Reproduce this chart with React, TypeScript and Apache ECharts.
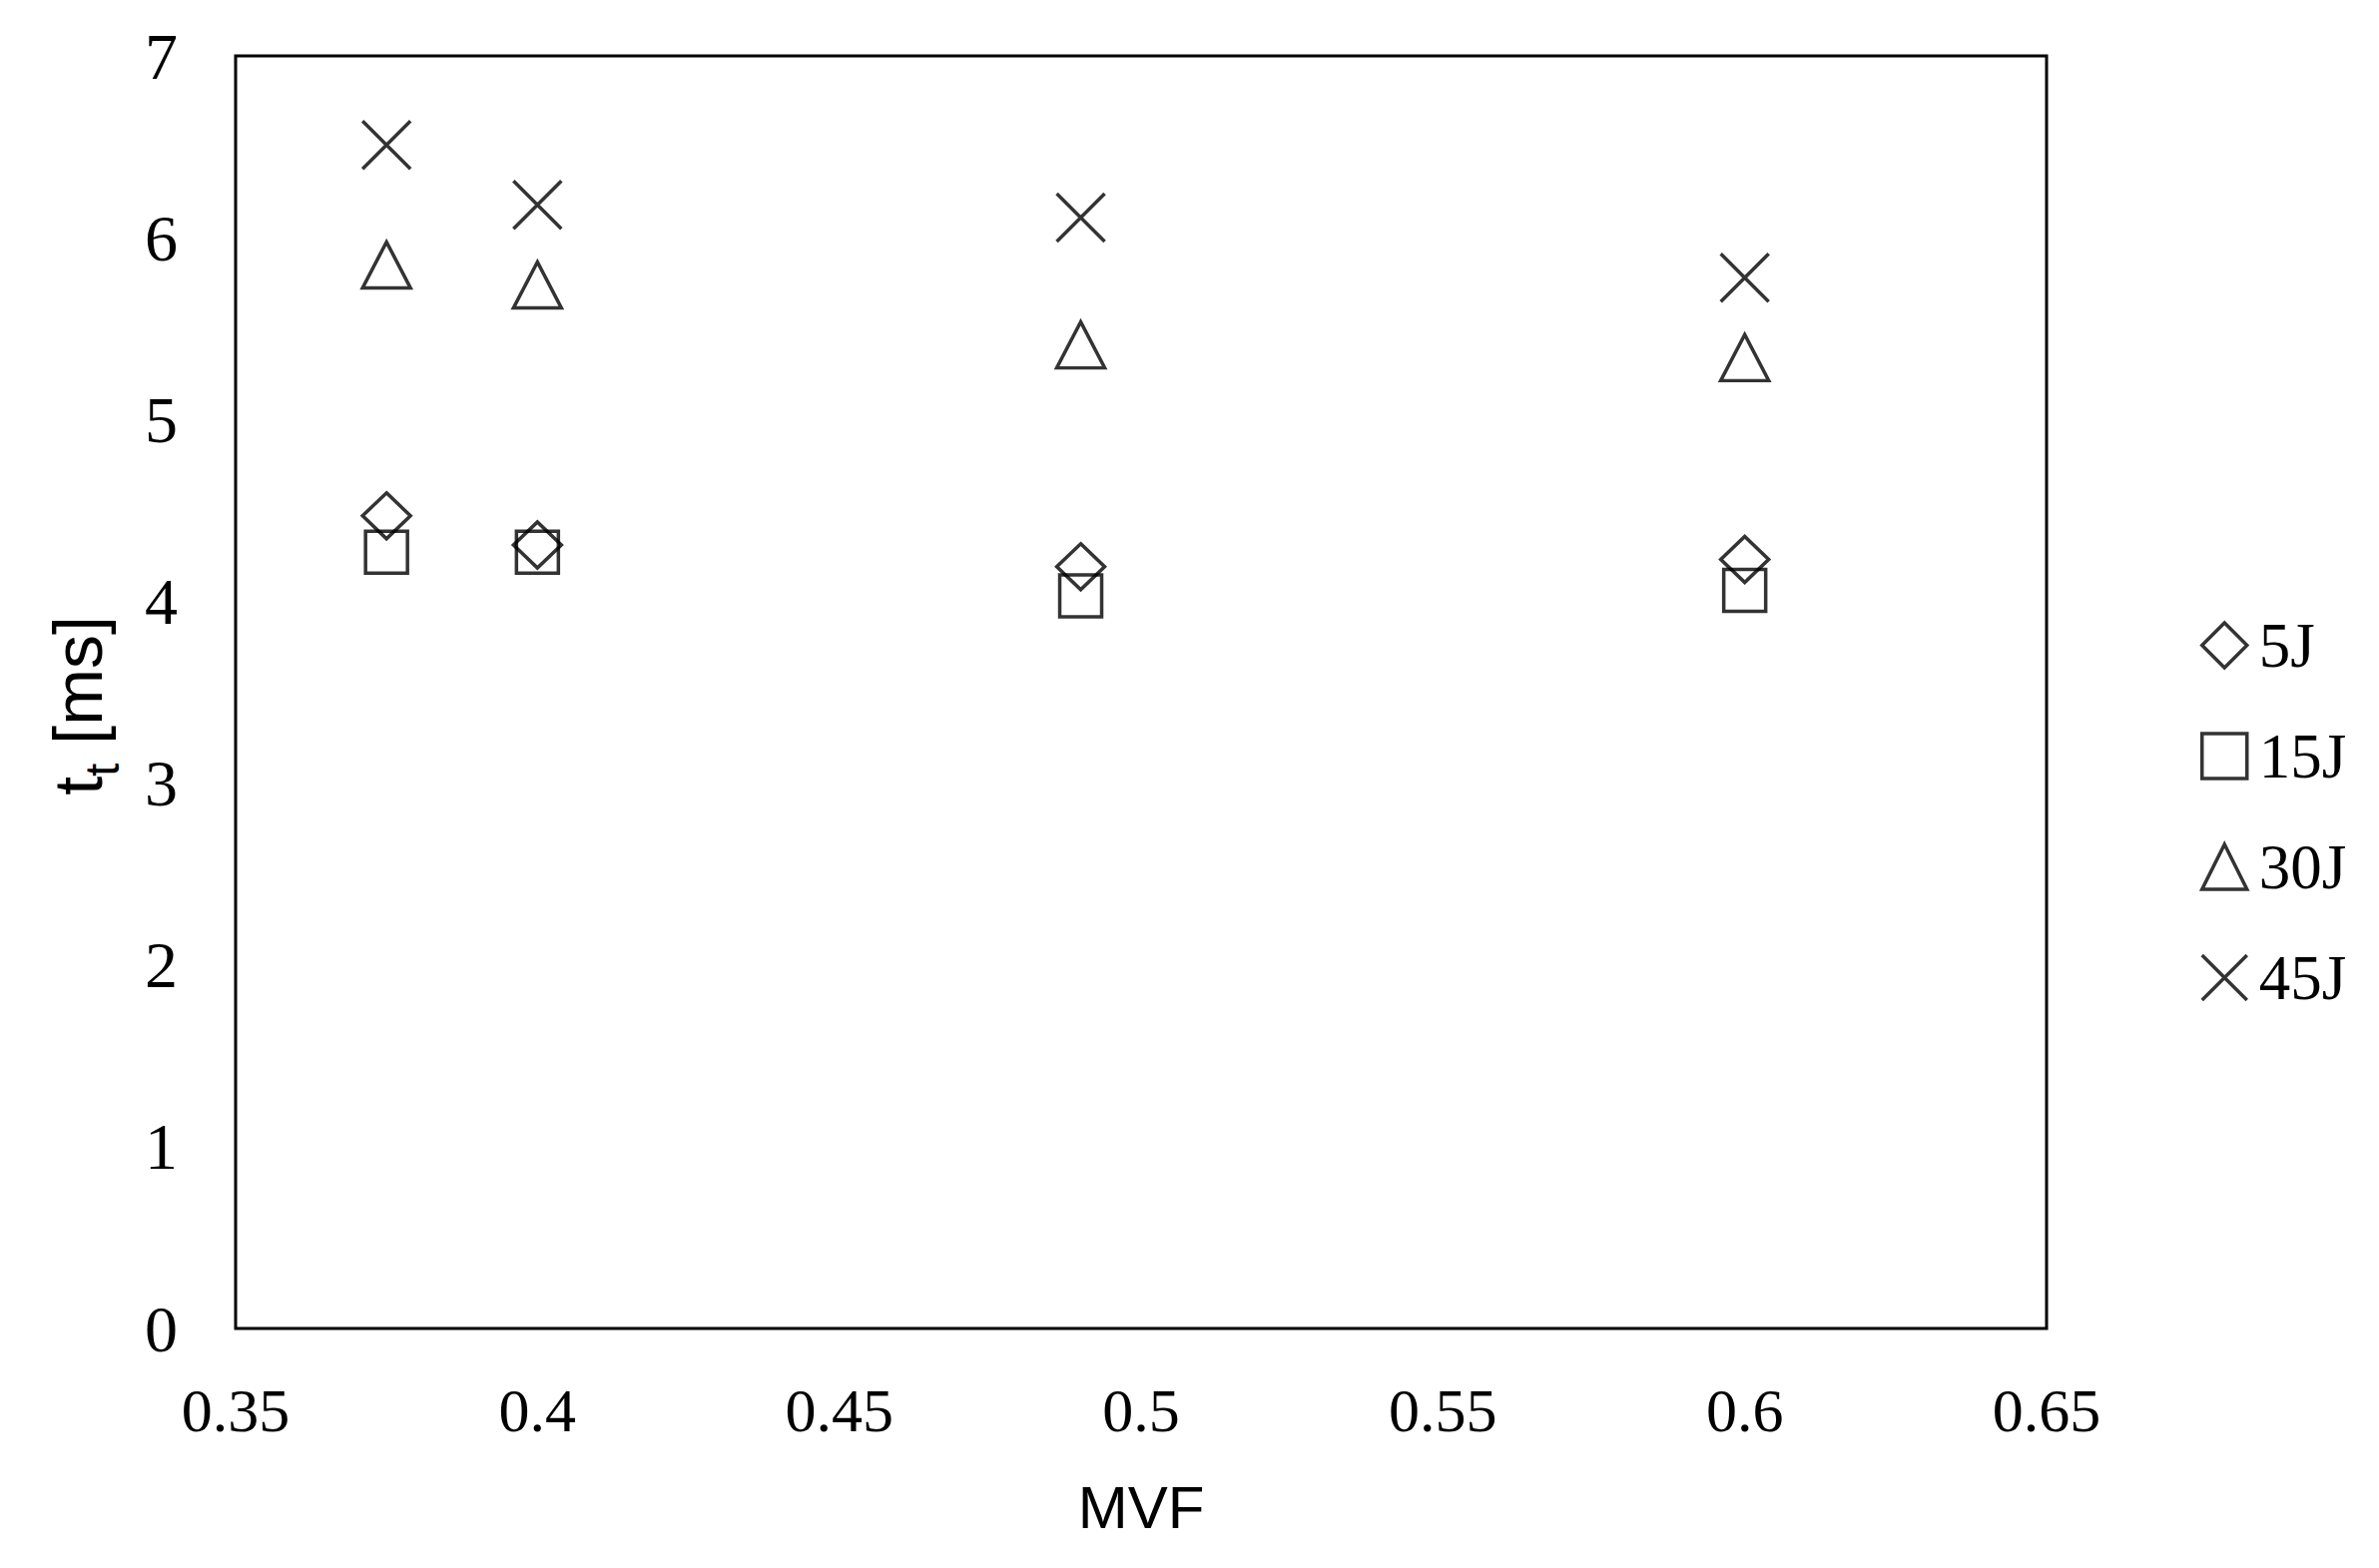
import React, { useEffect, useRef } from "react";
import * as echarts from "echarts";

const mvf = [0.375, 0.4, 0.49, 0.6];
const values5J = [4.47, 4.31, 4.19, 4.23];
const values15J = [4.27, 4.27, 4.03, 4.06];
const values30J = [5.85, 5.74, 5.41, 5.34];
const values45J = [6.51, 6.18, 6.11, 5.78];
const seriesNames = ["5J", "15J", "30J", "45J"];
const seriesValues = [values5J, values15J, values30J, values45J];
const seriesSymbols = ["diamond", "rect", "triangle", "path://M0,0L10,10M10,0L0,10"];
const seriesSymbolSizes: any[] = [[48, 46], 42, [48, 46], 48];

const xMin = 0.35;
const xMax = 0.65;
const xStep = 0.05;
const yMin = 0;
const yMax = 7;
const yStep = 1;

export default function App() {
  const ref = useRef<HTMLDivElement>(null);
  useEffect(() => {
    if (!ref.current) return;
    const chart = echarts.init(ref.current, null, { renderer: "svg" });
    const series = seriesNames.map((name, i) => ({
      name,
      type: "scatter",
      symbol: seriesSymbols[i],
      symbolSize: seriesSymbolSizes[i],
      data: mvf.map((x, j) => [x, seriesValues[i][j]]),
      itemStyle: { color: "rgba(0,0,0,0)", borderColor: "#000", borderWidth: 3.5 },
      emphasis: { disabled: true },
    }));
    chart.setOption({
      animation: false,
      backgroundColor: "#fff",
      grid: {
        show: true,
        left: 236,
        top: 56,
        right: 2383 - 2050,
        bottom: 1571 - 1331,
        borderColor: "#000",
        borderWidth: 3,
        backgroundColor: "rgba(0,0,0,0)",
      },
      xAxis: {
        type: "value",
        min: xMin,
        max: xMax,
        interval: xStep,
        name: "MVF",
        nameLocation: "middle",
        nameGap: 149,
        nameTextStyle: { fontFamily: "Liberation Sans", fontSize: 60, color: "#000" },
        axisLine: { show: false },
        axisTick: { show: false },
        splitLine: { show: false },
        axisLabel: {
          margin: 51,
          fontFamily: "Liberation Serif",
          fontSize: 62,
          color: "#000",
          formatter: (v: number) => String(Math.round(v * 100) / 100),
        },
      },
      yAxis: {
        type: "value",
        min: yMin,
        max: yMax,
        interval: yStep,
        axisLine: { show: false },
        axisTick: { show: false },
        splitLine: { show: false },
        axisLabel: {
          margin: 58,
          fontFamily: "Liberation Serif",
          fontSize: 66,
          color: "#000",
        },
      },
      legend: {
        orient: "vertical",
        left: 2199,
        top: 610,
        itemWidth: 45,
        itemHeight: 45,
        itemGap: 48,
        data: seriesNames,
        itemStyle: { color: "rgba(0,0,0,0)", borderColor: "#000", borderWidth: 3.5 },
        textStyle: {
          fontFamily: "Liberation Serif",
          fontSize: 63,
          lineHeight: 62,
          color: "#000",
          padding: [0, 0, 0, 7],
        },
      },
      graphic: [
        {
          type: "text",
          x: 78,
          y: 707,
          rotation: Math.PI / 2,
          style: {
            text: "{m|t}{s|t}{m| [ms]}",
            align: "center",
            verticalAlign: "middle",
            fill: "#000",
            rich: {
              m: {
                fontFamily: "Liberation Sans",
                fontSize: 68,
                lineHeight: 68,
                verticalAlign: "top",
                fill: "#000",
              },
              s: {
                fontFamily: "Liberation Sans",
                fontSize: 48,
                lineHeight: 48,
                padding: [34, 0, 0, 0],
                verticalAlign: "top",
                fill: "#000",
              },
            },
          },
        },
      ],
      series,
    });
    return () => chart.dispose();
  }, []);
  return (
    <div
      ref={ref}
      style={{ position: "fixed", left: 0, top: 0, width: 2383, height: 1571, background: "#fff" }}
    />
  );
}
